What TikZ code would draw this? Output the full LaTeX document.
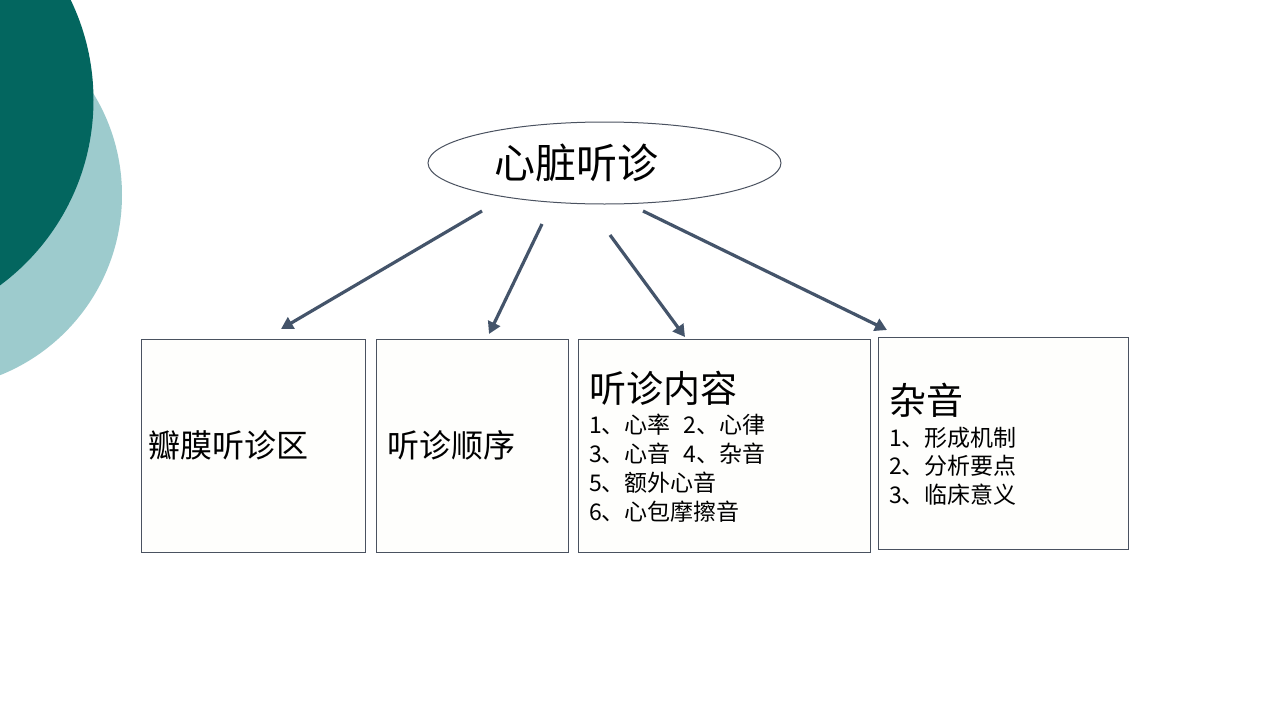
\documentclass[tikz,border=0pt]{standalone}
\usepackage{fontspec}
\setmainfont{Noto Sans CJK SC}
\usetikzlibrary{arrows.meta,shapes.geometric}
\definecolor{darkteal}{HTML}{03665F}
\definecolor{lightteal}{HTML}{9DCBCD}
\definecolor{arrowc}{HTML}{44546A}
\definecolor{boxfill}{HTML}{FEFEFC}
\definecolor{boxline}{HTML}{4A5260}
\tikzset{
  boxnode/.style={draw=boxline, line width=1pt, fill=boxfill, anchor=north west, inner sep=0pt},
  conn/.style={draw=arrowc, line width=3.2pt, -{Triangle[length=12pt,width=13pt]}},
  txt/.style={anchor=west, inner sep=0pt, text=black},
  listtxt/.style={txt, font=\fontsize{23}{27}\selectfont},
}
\begin{document}
\begin{tikzpicture}[x=1pt,y=-1pt]
\useasboundingbox (0,0) rectangle (1280,720);
\fill[white] (0,0) rectangle (1280,720);
% decorative circles
\begin{scope}
\clip (0,0) rectangle (1280,720);
\fill[lightteal] (-72,195) circle (194);
\fill[darkteal] (-137,100) circle (230.5);
\end{scope}
% root
\node[draw=boxline, line width=1pt, fill=white, ellipse, minimum width=353pt, minimum height=82pt, inner sep=0pt] (root) at (604.5,163) {};
\node[txt, anchor=center, font=\fontsize{41}{48}\selectfont] (roottxt) at (576,163) {心脏听诊};
% boxes
\node[boxnode, minimum width=224pt, minimum height=213pt] (b1) at (141,339) {};
\node[boxnode, minimum width=192pt, minimum height=213pt] (b2) at (376,339) {};
\node[boxnode, minimum width=292pt, minimum height=213pt] (b3) at (578,339) {};
\node[boxnode, minimum width=250pt, minimum height=212pt] (b4) at (878,337) {};
% texts
\node[txt, font=\fontsize{32}{38}\selectfont] (t1) at (148,445) {瓣膜听诊区};
\node[txt, font=\fontsize{32}{38}\selectfont] (t2) at (387,445) {听诊顺序};
\node[txt, font=\fontsize{37}{44}\selectfont] (t3) at (589,388) {听诊内容};
\node[listtxt] (t3a) at (589,425) {1、心率\hspace{13pt}2、心律};
\node[listtxt] (t3b) at (589,454) {3、心音\hspace{13pt}4、杂音};
\node[listtxt] (t3c) at (589,483) {5、额外心音};
\node[listtxt] (t3d) at (589,512) {6、心包摩擦音};
\node[txt, font=\fontsize{37}{44}\selectfont] (t4) at (889,400) {杂音};
\node[listtxt] (t4a) at (889,438) {1、形成机制};
\node[listtxt] (t4b) at (889,466) {2、分析要点};
\node[listtxt] (t4c) at (889,495) {3、临床意义};
% arrows
\coordinate (s1) at (482,211);
\coordinate (e1) at (281,329);
\coordinate (s2) at (542,224);
\coordinate (e2) at (489,334);
\coordinate (s3) at (610,235);
\coordinate (e3) at (685,337);
\coordinate (s4) at (643,211);
\coordinate (e4) at (887,330);
\draw[conn] (s1) -- (e1);
\draw[conn] (s2) -- (e2);
\draw[conn] (s3) -- (e3);
\draw[conn] (s4) -- (e4);
\end{tikzpicture}
\end{document}
